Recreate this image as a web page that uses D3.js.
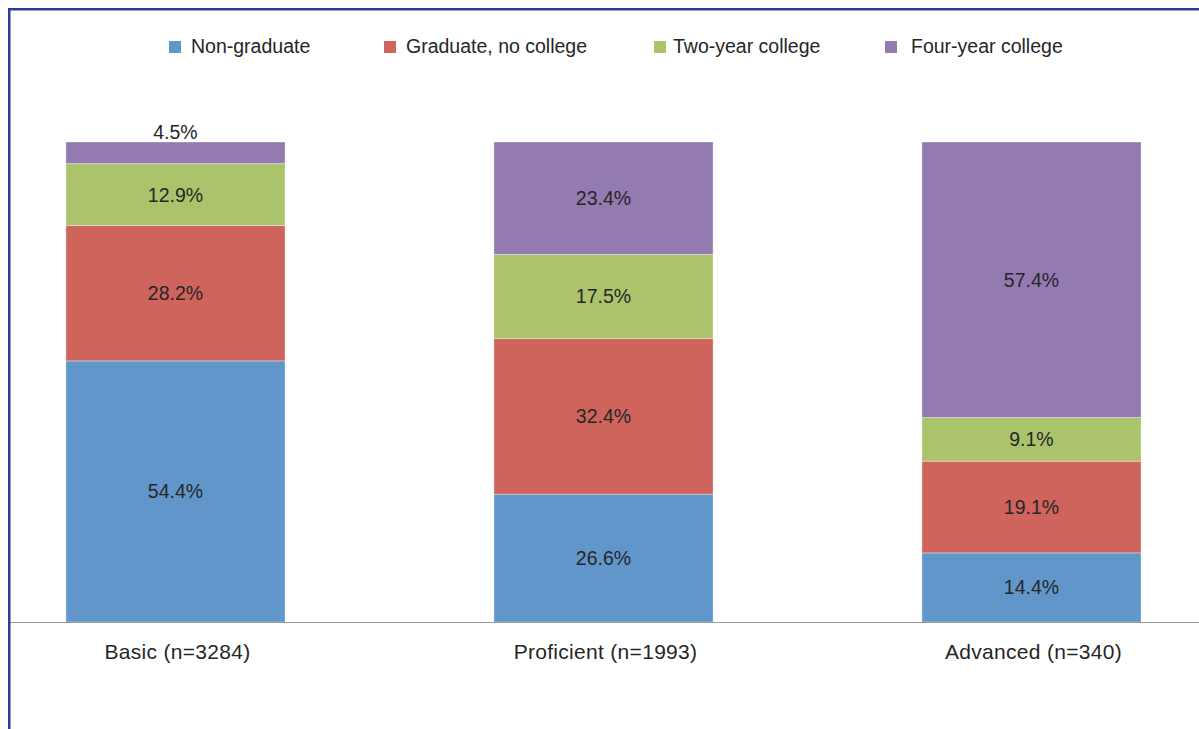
<!DOCTYPE html>
<html><head><meta charset="utf-8">
<script src="https://cdn.jsdelivr.net/npm/d3@7"></script>
<style>body{margin:0;background:#fff}svg{display:block}text{font-family:"Liberation Sans",Arial,sans-serif;fill:#262626}</style>
</head><body><svg id="c" width="1199" height="729"></svg>
<script>
const categories = ["Basic (n=3284)", "Proficient (n=1993)", "Advanced (n=340)"];
const seriesNames = ["Non-graduate", "Graduate, no college", "Two-year college", "Four-year college"];
const nonGraduate = [54.4, 26.6, 14.4];
const graduateNoCollege = [28.2, 32.4, 19.1];
const twoYearCollege = [12.9, 17.5, 9.1];
const fourYearCollege = [4.5, 23.4, 57.4];
const colors = ["#6196cb", "#cf645d", "#abc46b", "#937ab0"];

const seriesValues = [nonGraduate, graduateNoCollege, twoYearCollege, fourYearCollege];
const rows = categories.map((c, i) => {
  const r = {cat: c};
  seriesNames.forEach((s, j) => r[s] = seriesValues[j][i]);
  return r;
});

const svg = d3.select("#c");
const x = d3.scaleBand().domain(categories).range([-38.5, 1245.5]).paddingInner(0.488).paddingOuter(0.244);
const y = d3.scaleLinear().domain([0, 1]).range([622, 142]);
const stack = d3.stack().keys(seriesNames).offset(d3.stackOffsetExpand);
const layers = stack(rows);

const g = svg.append("g");
layers.forEach((layer, li) => {
  g.selectAll(null).data(layer).join("rect")
    .attr("x", d => x(d.data.cat))
    .attr("width", x.bandwidth())
    .attr("y", d => y(d[1]))
    .attr("height", d => y(d[0]) - y(d[1]))
    .attr("fill", colors[li])
    .attr("stroke", "#ffffff").attr("stroke-opacity", 0.35).attr("stroke-width", 1);
});
layers.forEach((layer, li) => {
  g.selectAll(null).data(layer).join("text")
    .attr("x", d => x(d.data.cat) + x.bandwidth() / 2)
    .attr("y", d => {
      const h = y(d[0]) - y(d[1]);
      return h < 30 ? y(d[1]) - 3 : (y(d[0]) + y(d[1])) / 2 + 7;
    })
    .attr("text-anchor", "middle")
    .style("font-size", "19.5px")
    .text(d => d.data[seriesNames[li]].toFixed(1) + "%");
});

// axis
const axis = d3.axisBottom(x).tickSize(0).tickPadding(0);
const ax = svg.append("g").attr("transform", "translate(0,622)").call(axis);
ax.select(".domain").remove();
ax.selectAll("text").attr("y", 37).attr("dx", 2).attr("dy", null).style("font-size", "21px").style("letter-spacing", "0.3px").style("fill", "#262626").style("font-family", '"Liberation Sans",Arial,sans-serif');
svg.append("line").attr("x1", 9).attr("x2", 1199).attr("y1", 622.5).attr("y2", 622.5).attr("stroke", "#9a9a9a").attr("stroke-width", 1.2);

// legend
const legX = [169, 384, 654, 885];
const legTX = [191, 406, 673, 911];
seriesNames.forEach((s, i) => {
  svg.append("rect").attr("x", legX[i]).attr("y", 41).attr("width", 12).attr("height", 12).attr("fill", colors[i]);
  svg.append("text").attr("x", legTX[i]).attr("y", 53).style("font-size", "19.5px").text(s);
});

// frame
svg.append("path").attr("d", "M9.25,729 V9.25 H1199").attr("fill", "none").attr("stroke", "#2b3d8e").attr("stroke-width", 2.5);
</script></body></html>
